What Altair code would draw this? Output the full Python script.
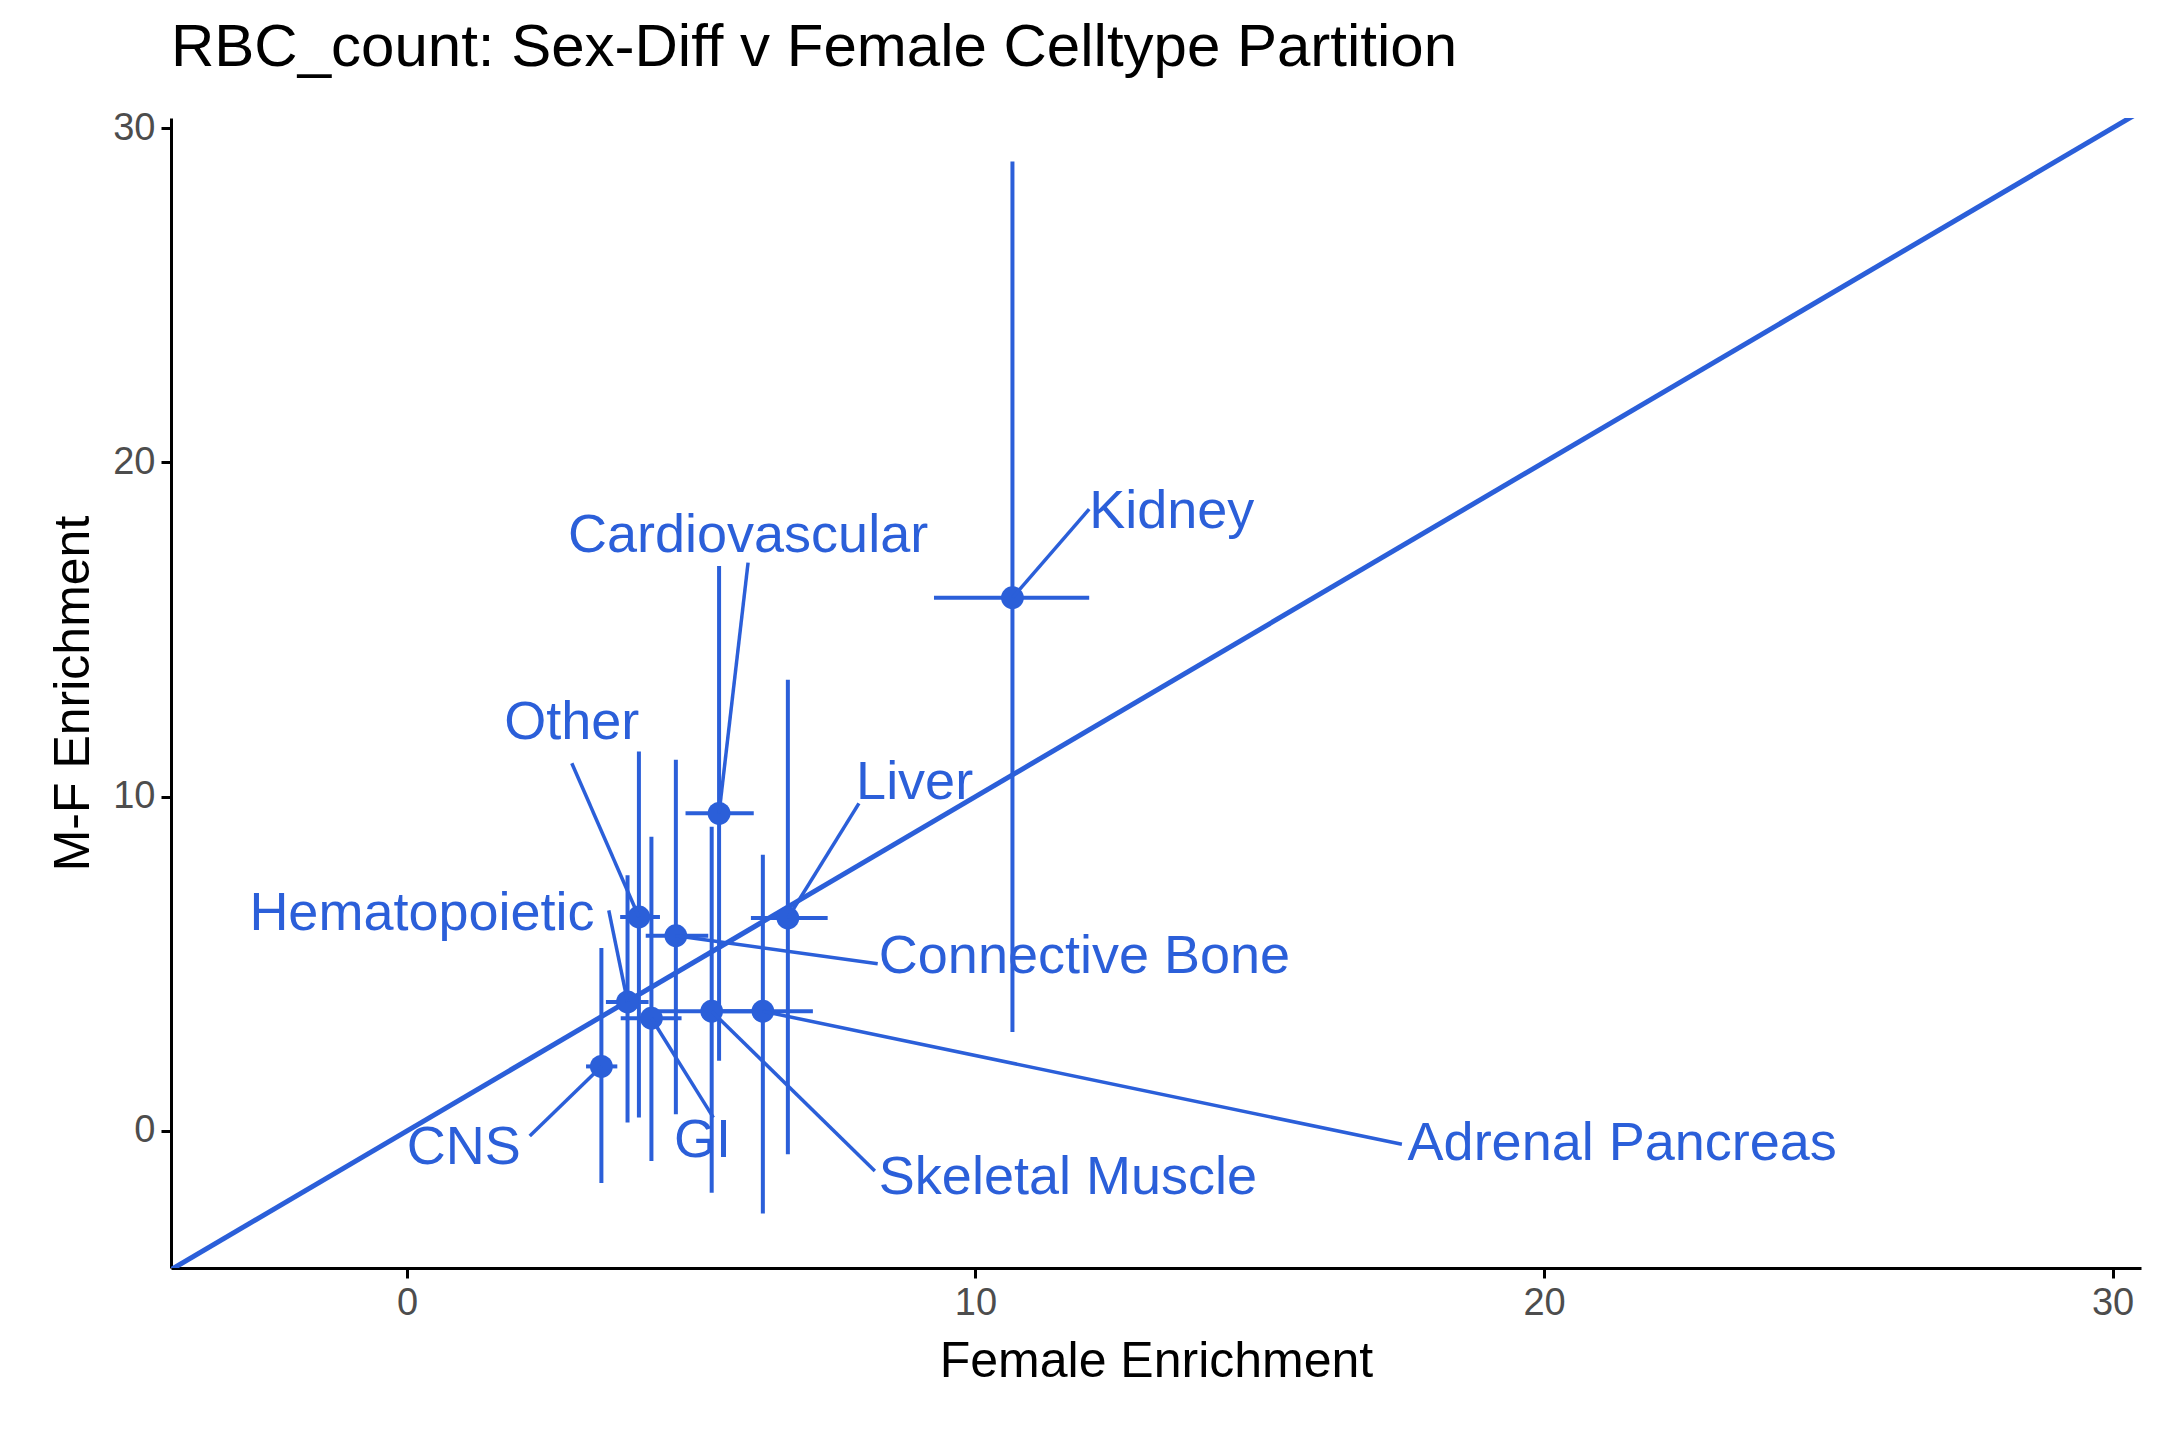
import altair as alt
import pandas as pd

celltype = ["Kidney", "Cardiovascular", "Liver", "Other", "Connective Bone",
            "Hematopoietic", "GI", "Skeletal Muscle", "Adrenal Pancreas", "CNS"]
female = [10.65, 5.49, 6.70, 4.08, 4.73, 3.88, 4.30, 5.36, 6.26, 3.42]
female_lo = [9.27, 4.90, 6.05, 3.75, 4.20, 3.50, 3.76, 4.40, 5.34, 3.15]
female_hi = [12.0, 6.10, 7.40, 4.45, 5.30, 4.25, 4.83, 6.33, 7.14, 3.70]
mf = [15.95, 9.50, 6.37, 6.40, 5.84, 3.86, 3.37, 3.58, 3.58, 1.93]
mf_lo = [2.96, 2.10, -0.70, 0.40, 0.50, 0.25, -0.90, -1.85, -2.47, -1.56]
mf_hi = [29.0, 16.9, 13.5, 11.35, 11.1, 7.65, 8.80, 9.10, 8.26, 5.47]
# repelled label anchor and leader-line end
label_x = [12.0, 6.0, 7.9, 2.9, 8.3, 3.3, 5.2, 8.3, 17.6, 1.0]
label_y = [18.5, 17.8, 10.4, 12.2, 5.2, 6.5, -0.3, -1.4, -0.4, -0.5]
seg_x = [12.0, 6.0, 7.95, 2.9, 8.28, 3.55, 5.39, 8.23, 17.5, 2.16]
seg_y = [18.6, 17.0, 9.8, 11.0, 5.0, 6.6, 0.4, -1.2, -0.4, -0.15]
label_align = ["left", "center", "left", "center", "left", "right", "center", "left", "left", "center"]

x_dom = [-4.15, 30.5]
y_dom = [-4.1, 30.3]

df = pd.DataFrame(dict(celltype=celltype, female=female, female_lo=female_lo,
                       female_hi=female_hi, mf=mf, mf_lo=mf_lo, mf_hi=mf_hi,
                       label_x=label_x, label_y=label_y, seg_x=seg_x, seg_y=seg_y,
                       align=label_align))
diag = pd.DataFrame({"a": x_dom, "b": x_dom})

blue = "#2b5fd9"
xs = alt.Scale(domain=x_dom, nice=False, zero=False)
ys = alt.Scale(domain=y_dom, nice=False, zero=False)
xax = alt.Axis(values=[0, 10, 20, 30], format="d", grid=False, title="Female Enrichment")
yax = alt.Axis(values=[0, 10, 20, 30], format="d", grid=False, title="M-F Enrichment")

base = alt.Chart(df)
line = alt.Chart(diag).mark_line(color=blue, strokeWidth=5, clip=True).encode(
    x=alt.X("a:Q", scale=xs, axis=xax), y=alt.Y("b:Q", scale=ys, axis=yax))
verr = base.mark_rule(color=blue, strokeWidth=4).encode(
    x="female:Q", y="mf_lo:Q", y2="mf_hi:Q")
herr = base.mark_rule(color=blue, strokeWidth=4).encode(
    y="mf:Q", x="female_lo:Q", x2="female_hi:Q")
pts = base.mark_circle(color=blue, size=520, opacity=1).encode(x="female:Q", y="mf:Q")
seg = base.mark_rule(color=blue, strokeWidth=3.5).encode(
    x="female:Q", y="mf:Q", x2="seg_x:Q", y2="seg_y:Q")

layers = [line, verr, herr, pts, seg]
for a in ["left", "center", "right"]:
    layers.append(base.transform_filter(alt.datum.align == a).mark_text(
        color=blue, fontSize=54, align=a, baseline="middle", font="Liberation Sans"
    ).encode(x="label_x:Q", y="label_y:Q", text="celltype:N"))

chart = alt.layer(*layers).properties(
    width=1970, height=1150,
    padding={"left": 40, "top": 10, "right": 10, "bottom": 5},
    title=alt.TitleParams("RBC_count: Sex-Diff v Female Celltype Partition",
                          anchor="start", frame="group", fontSize=60, fontWeight="normal",
                          font="Liberation Sans", color="black", offset=30),
    background="white",
).configure_view(stroke=None).configure_axis(
    domainColor="black", domainWidth=3, tickColor="black", tickWidth=3, tickSize=10,
    labelFontSize=38, labelColor="#4d4d4d", labelFont="Liberation Sans",
    titleFontSize=50, titleFontWeight="normal", titleFont="Liberation Sans",
    titleColor="black", labelPadding=6, titlePadding=14,
)

chart.save("out.html", embed_options={"renderer": "svg", "actions": False})
